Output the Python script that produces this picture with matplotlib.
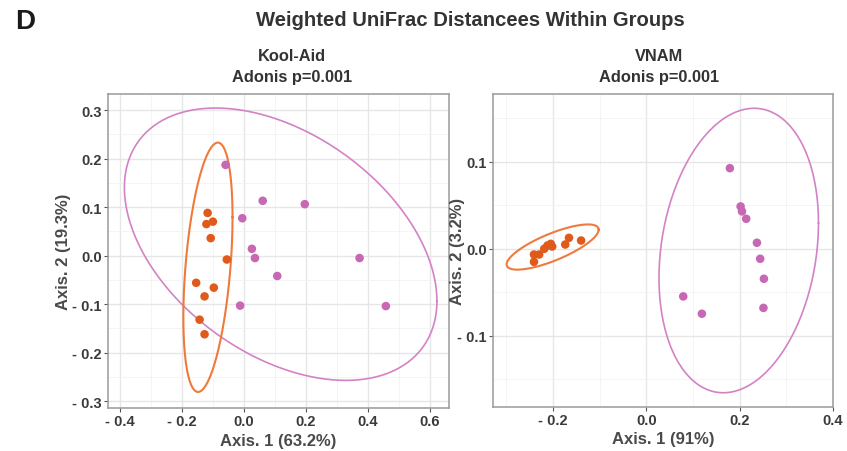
import numpy as np
import matplotlib
matplotlib.use("Agg")
import matplotlib.pyplot as plt

plt.rcParams["font.family"] = ["Liberation Sans", "DejaVu Sans"]
plt.rcParams["font.weight"] = "bold"

# ---- data ---------------------------------------------------------------
# Kool-Aid panel (PCoA axis 1 / axis 2)
kool_orange_x = [-0.117, -0.121, -0.100, -0.107, -0.055, -0.154, -0.097, -0.127, -0.143, -0.127]
kool_orange_y = [0.088, 0.065, 0.070, 0.036, -0.008, -0.056, -0.066, -0.084, -0.132, -0.162]
kool_pink_x = [-0.059, 0.061, 0.197, -0.005, 0.026, 0.036, 0.108, -0.012, 0.374, 0.459]
kool_pink_y = [0.187, 0.113, 0.106, 0.077, 0.014, -0.005, -0.042, -0.103, -0.005, -0.104]

# VNAM panel
vnam_orange_x = [-0.241, -0.230, -0.241, -0.212, -0.205, -0.202, -0.219, -0.174, -0.166, -0.140]
vnam_orange_y = [-0.0066, -0.0066, -0.015, 0.0038, 0.0057, 0.0026, 0.0, 0.0049, 0.0126, 0.0095]
vnam_pink_x = [0.179, 0.202, 0.205, 0.214, 0.237, 0.244, 0.252, 0.251, 0.079, 0.119]
vnam_pink_y = [0.0927, 0.0487, 0.043, 0.0345, 0.0069, -0.0115, -0.0345, -0.068, -0.0548, -0.0747]

# 95% ellipses: centre (x, y) and shape (sxx, sxy, syy)
kool_orange_ell = ((-0.116, -0.024), (0.00632, 0.0082, 0.066))
kool_pink_ell = ((0.119, 0.0235), (0.255, -0.059, 0.0787))
vnam_orange_ell = ((-0.201, 0.002), (0.00974, 0.00197, 0.000676))
vnam_pink_ell = ((0.198, -0.002), (0.02924, 0.0054, 0.02676))

kool_xticks = [-0.4, -0.2, 0.0, 0.2, 0.4, 0.6]
kool_yticks = [-0.3, -0.2, -0.1, 0.0, 0.1, 0.2, 0.3]
vnam_xticks = [-0.2, 0.0, 0.2, 0.4]
vnam_yticks = [-0.1, 0.0, 0.1]

ORANGE = "#E05A1C"
ORANGE_L = "#EF7A3C"
PINK = "#C867B3"
PINK_L = "#D482C6"


def ellipse_xy(ell, n=200):
    (cx, cy), (sxx, sxy, syy) = ell
    L = np.linalg.cholesky(np.array([[sxx, sxy], [sxy, syy]]))
    t = np.linspace(0, 2 * np.pi, n)
    pts = L @ np.vstack([np.cos(t), np.sin(t)])
    return cx + pts[0], cy + pts[1]


def fmt(v):
    s = f"{abs(v):.1f}"
    return "- " + s if v < 0 else s


def style(ax, xticks, yticks, xlim, ylim):
    ax.set_xticks(xticks)
    ax.set_yticks(yticks)
    ax.set_xticklabels([fmt(v) for v in xticks])
    ax.set_yticklabels([fmt(v) for v in yticks])
    dx = xticks[1] - xticks[0]
    dy = yticks[1] - yticks[0]
    xm = np.arange(xticks[0] - dx / 2, xticks[-1] + dx, dx)
    ym = np.arange(yticks[0] - dy / 2, yticks[-1] + dy, dy)
    ax.set_xticks(xm, minor=True)
    ax.set_yticks(ym, minor=True)
    ax.set_xlim(*xlim)
    ax.set_ylim(*ylim)
    ax.tick_params(which="minor", length=0)
    ax.grid(True, which="major", color="#E6E6E6", lw=1.0)
    ax.grid(True, which="minor", color="#F2F2F2", lw=0.6)
    ax.set_axisbelow(True)
    ax.tick_params(which="major", length=3, width=0.8, color="#555555",
                   labelsize=10.5, labelcolor="#3A3A3A", pad=1.5)
    for lab in ax.get_xticklabels() + ax.get_yticklabels():
        lab.set_fontweight("bold")
    for sp in ax.spines.values():
        sp.set_color("#9A9A9A")
        sp.set_linewidth(1.1)


fig = plt.figure(figsize=(8.47, 4.52), dpi=100)
ax1 = fig.add_axes([0.1275, 0.0951, 0.4026, 0.6947])
ax2 = fig.add_axes([0.582, 0.0973, 0.4014, 0.6925])

panels = [
    (ax1, kool_orange_x, kool_orange_y, kool_pink_x, kool_pink_y,
     kool_orange_ell, kool_pink_ell, kool_xticks, kool_yticks,
     (-0.439, 0.663), (-0.314, 0.333), "Axis. 1 (63.2%)", "Axis. 2 (19.3%)", -0.108),
    (ax2, vnam_orange_x, vnam_orange_y, vnam_pink_x, vnam_pink_y,
     vnam_orange_ell, vnam_pink_ell, vnam_xticks, vnam_yticks,
     (-0.329, 0.4), (-0.182, 0.178), "Axis. 1 (91%)", "Axis. 2 (3.2%)", -0.082),
]
for (ax, ox, oy, px, py, oell, pell, xt, yt, xl, yl, xlab, ylab, ylx) in panels:
    ex, ey = ellipse_xy(pell)
    ax.plot(ex, ey, color=PINK_L, lw=1.2, zorder=2)
    ex, ey = ellipse_xy(oell)
    ax.plot(ex, ey, color=ORANGE_L, lw=1.5, zorder=2)
    ax.scatter(px, py, s=38, color=PINK, edgecolors="none", zorder=3)
    ax.scatter(ox, oy, s=38, color=ORANGE, edgecolors="none", zorder=3)
    style(ax, xt, yt, xl, yl)
    ax.set_xlabel(xlab, fontsize=12, fontweight="bold", color="#4A4A4A")
    ax.set_ylabel(ylab, fontsize=12, fontweight="bold", color="#4A4A4A")
    ax.xaxis.set_label_coords(0.5, -0.078)
    ax.yaxis.set_label_coords(ylx, 0.5)

fig.text(0.0177, 0.951, "D", fontsize=20, fontweight="bold", color="#1A1A1A",
         ha="left", va="center")
fig.text(0.555, 0.955, "Weighted UniFrac Distancees Within Groups", fontsize=14.6,
         fontweight="bold", color="#333333", ha="center", va="center")
for xc, name in [(0.345, "Kool-Aid"), (0.778, "VNAM")]:
    fig.text(xc, 0.874, name, fontsize=11.8, fontweight="bold", color="#333333",
             ha="center", va="center")
    fig.text(xc, 0.828, "Adonis p=0.001", fontsize=11.8, fontweight="bold",
             color="#333333", ha="center", va="center")

fig.savefig("out.png", dpi=100)
